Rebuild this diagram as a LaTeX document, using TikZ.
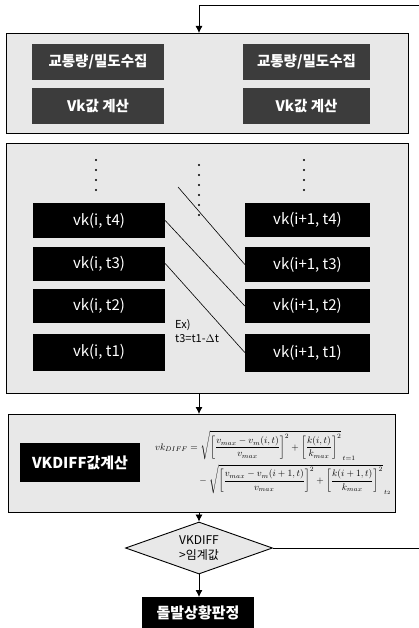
\documentclass[tikz,border=0pt]{standalone}
\usepackage{fontspec}
\usepackage{graphicx}
\usepackage{amsmath}
\setmainfont{Noto Sans CJK KR}
\usetikzlibrary{arrows.meta,shapes.geometric}
\definecolor{panel}{HTML}{E8E8E8}
\definecolor{darkbox}{HTML}{3C3C3C}
\begin{document}
\begin{tikzpicture}[x=1pt,y=-1pt,
  panelbox/.style={draw=black,line width=0.9pt,fill=panel},
  graybox/.style={fill=darkbox,text=white,minimum width=132pt,minimum height=36pt,inner sep=0pt,font=\fontsize{14.5}{16}\selectfont\bfseries},
  blackbox/.style={fill=black,text=white,minimum height=34pt,inner sep=0pt,font=\fontsize{15}{17}\selectfont},
  conn/.style={draw=black,line width=0.8pt},
  arr/.style={conn,-{Latex[length=7pt,width=7pt]}},
  dotcol/.style={fill=black,circle,inner sep=0pt,minimum size=2.2pt}
]
\useasboundingbox (0,0) rectangle (419,628);
\fill[white] (0,0) rectangle (419,628);

% panels
\node[panelbox,minimum width=402pt,minimum height=100pt,inner sep=0pt,anchor=north west] (p1) at (6,33) {};
\node[panelbox,minimum width=402pt,minimum height=250pt,inner sep=0pt,anchor=north west] (p2) at (6,143) {};
\node[panelbox,minimum width=387pt,minimum height=98pt,inner sep=0pt,anchor=north west] (p3) at (8,414) {};

% panel 1 boxes
\node[graybox] (a1) at (98,62) {교통량/밀도수집};
\node[graybox] (a2) at (98,106) {Vk값 계산};
\node[graybox,minimum width=127pt] (b1) at (306.5,62) {교통량/밀도수집};
\node[graybox,minimum width=127pt] (b2) at (306.5,106) {Vk값 계산};

% panel 2 dots
\foreach \y [count=\i] in {160,170,180,190} {
  \node[dotcol] (dl\i) at (96,\y) {};
  \node[dotcol] (dr\i) at (304,\y) {};
}
\foreach \y [count=\i] in {165,175,185,195,205,215} {
  \node[dotcol] (dm\i) at (199,\y) {};
}

% panel 2 boxes
\node[blackbox,minimum width=132pt] (l4) at (99,220.5) {vk(i, t4)};
\node[blackbox,minimum width=132pt] (l3) at (99,263.5) {vk(i, t3)};
\node[blackbox,minimum width=132pt] (l2) at (99,305.5) {vk(i, t2)};
\node[blackbox,minimum width=132pt,minimum height=37pt] (l1) at (99,352) {vk(i, t1)};
\node[blackbox,minimum width=125pt] (r4) at (307.5,220) {vk(i+1, t4)};
\node[blackbox,minimum width=125pt,minimum height=35pt] (r3) at (307.5,264.5) {vk(i+1, t3)};
\node[blackbox,minimum width=125pt] (r2) at (307.5,306) {vk(i+1, t2)};
\node[blackbox,minimum width=125pt,minimum height=38pt] (r1) at (307.5,352.5) {vk(i+1, t1)};

\coordinate (c0) at (178,187);
\draw[conn,line width=0.6pt] (c0) -- (r3.west);
\draw[conn,line width=0.6pt] (l4.east) -- (r2.west);
\draw[conn,line width=0.6pt] (l3.east) -- (r1.west);

\node[anchor=north west,inner sep=0pt,align=left,font=\fontsize{11}{14}\selectfont] (ex) at (175,319) {Ex)\\t3=t1-$\Delta$t};

% panel 3
\node[blackbox,minimum width=120pt,minimum height=39pt,font=\fontsize{15}{17}\selectfont\bfseries] (vd) at (80,462.5) {VKDIFF값계산};
\node[anchor=west,inner sep=0pt] (fm) at (155,463) {\resizebox{236pt}{!}{$\begin{aligned}
vk_{DIFF} &= \sqrt{\left[\frac{v_{max}-v_m(i,t)}{v_{max}}\right]^2+\left[\frac{k(i,t)}{k_{max}}\right]^2}_{\,t=1}\\
&\quad-\sqrt{\left[\frac{v_{max}-v_m(i+1,t)}{v_{max}}\right]^2+\left[\frac{k(i+1,t)}{k_{max}}\right]^2}_{\,t_2}
\end{aligned}$}};

% decision
\node[diamond,draw=black,line width=0.9pt,fill=panel,minimum width=147pt,minimum height=52pt,aspect=2.8,inner sep=0pt,align=center,font=\fontsize{12}{15}\selectfont] (dec) at (199,548) {VKDIFF\\>임계값};
\node[blackbox,minimum width=112pt,minimum height=31pt,font=\fontsize{15}{17}\selectfont\bfseries,anchor=north] (res) at (198,597) {돌발상황판정};

% connectors
\coordinate (fbR) at (419,548);
\coordinate (fbT) at (419,5);
\coordinate (fbC) at (199,5);
\draw[conn] (dec.east) -- (fbR);
\draw[conn] (fbT) -- (fbC);
\draw[arr] (fbC) -- (p1.north -| fbC);
\draw[arr] (p2.south -| fbC) -- (p3.north -| fbC);
\draw[arr] (p3.south -| fbC) -- (dec.north);
\draw[arr] (dec.south) -- (res.north -| dec.south);
\end{tikzpicture}
\end{document}
